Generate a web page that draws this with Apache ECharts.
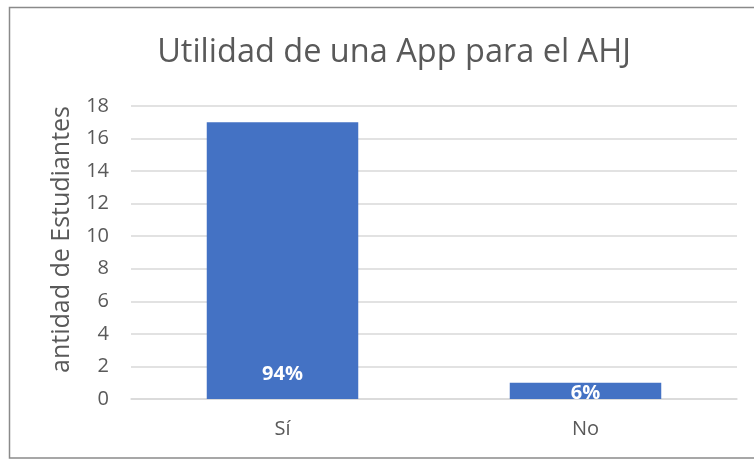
<!DOCTYPE html>
<html>
<head>
<meta charset="utf-8">
<script src="https://cdn.jsdelivr.net/npm/echarts@6/dist/echarts.min.js"></script>
<style>html,body{margin:0;padding:0;background:#fff;}#c{width:754px;height:462px;}</style>
</head>
<body>
<div id="c"></div>
<script>
const titleText = 'Utilidad de una App para el AHJ';
const yAxisName = 'antidad de Estudiantes';
const categories = ['Sí', 'No'];
const values = [17, 1];
const percentLabels = ['94%', '6%'];
const labelDistances = [15, -4];
const yTicks = { min: 0, max: 18, interval: 2 };

const FONT = '"Open Sans", "Noto Sans", sans-serif';
const chart = echarts.init(document.getElementById('c'), null, { renderer: 'canvas' });
chart.setOption({
  animation: false,
  backgroundColor: '#fff',
  title: {
    text: titleText,
    left: 389, top: 31, textAlign: 'center',
    textStyle: { fontFamily: FONT, fontSize: 32.5, fontWeight: 'normal', color: '#595959' }
  },
  graphic: [{
    type: 'rect', shape: { x: 9.5, y: 7.5, width: 800, height: 450.5 },
    style: { fill: 'none', stroke: '#8a8a8a', lineWidth: 1.5 }, silent: true, z: -1
  }],
  grid: { left: 131, right: 17, top: 106, bottom: 63 },
  xAxis: {
    type: 'category', data: categories,
    axisLine: { lineStyle: { color: '#d9d9d9', width: 1.5 } },
    axisTick: { show: false },
    axisLabel: { fontFamily: FONT, fontSize: 20, color: '#595959', margin: 20 }
  },
  yAxis: {
    type: 'value', min: yTicks.min, max: yTicks.max, interval: yTicks.interval,
    name: yAxisName, nameLocation: 'middle', nameGap: 57, nameRotate: 90,
    nameTextStyle: { fontFamily: FONT, fontSize: 25, color: '#595959', padding: [0, 0, 0, 26] },
    axisLine: { show: false }, axisTick: { show: false },
    axisLabel: { fontFamily: FONT, fontSize: 20, color: '#595959', margin: 22 },
    splitLine: { lineStyle: { color: '#d9d9d9', width: 1.5 } }
  },
  series: [{
    type: 'bar', barWidth: '50%',
    data: values.map((v, i) => ({
      value: v,
      label: {
        show: true, position: 'insideBottom', distance: labelDistances[i],
        formatter: percentLabels[i],
        fontFamily: FONT, fontSize: 20, fontWeight: 'bold', color: '#ffffff'
      }
    })),
    itemStyle: { color: '#4472c4' }
  }]
});
</script>
</body>
</html>
